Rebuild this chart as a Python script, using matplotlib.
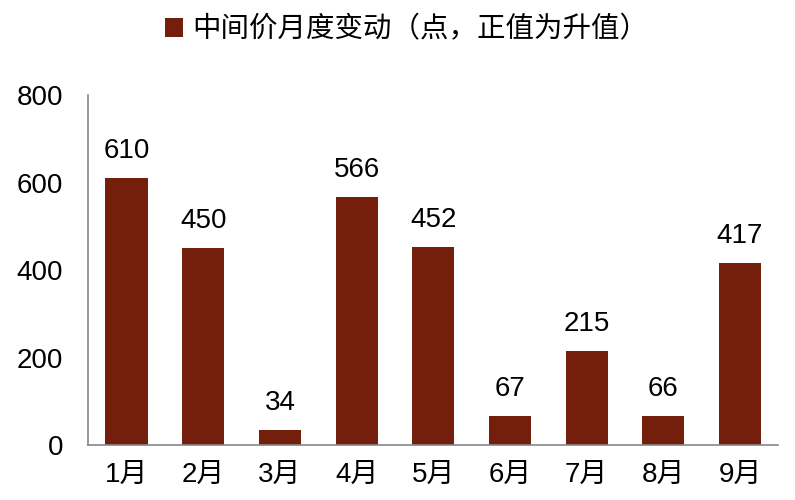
import matplotlib
matplotlib.use("Agg")
import matplotlib.pyplot as plt

# data
months = ['1月', '2月', '3月', '4月', '5月', '6月', '7月', '8月', '9月']
changes = [610, 450, 34, 566, 452, 67, 215, 66, 417]
series_name = '中间价月度变动（点，正值为升值）'

plt.rcParams['font.family'] = ['Liberation Sans', 'Noto Sans CJK SC', 'DejaVu Sans']

bar_color = '#741F0B'

fig = plt.figure(figsize=(7.95, 5), dpi=100)
ax = fig.add_axes([0.111, 0.11, 0.868, 0.70])

x = range(len(months))
bars = ax.bar(x, changes, width=0.55, color=bar_color, label=series_name)

# value labels above bars
for xi, v in zip(x, changes):
    ax.annotate(str(v), (xi, v), xytext=(0, 10), textcoords='offset points',
                ha='center', va='bottom', fontsize=20)

ax.set_xlim(-0.5, len(months) - 0.5)
ax.set_ylim(0, 800)
ax.set_yticks([0, 200, 400, 600, 800])
ax.set_xticks(list(x))
ax.set_xticklabels(months)

ax.tick_params(axis='both', length=0, labelsize=20)
ax.tick_params(axis='y', pad=18)
ax.tick_params(axis='x', pad=12)

for side in ['top', 'right']:
    ax.spines[side].set_visible(False)
for side in ['left', 'bottom']:
    ax.spines[side].set_color('#888888')
    ax.spines[side].set_linewidth(1.2)

fig.legend(handles=[bars], labels=[series_name], loc='center',
           bbox_to_anchor=(0.511, 0.94), frameon=False, fontsize=20.5,
           handlelength=0.65, handleheight=0.65, handletextpad=0.3)

fig.savefig('out.png', dpi=100)
